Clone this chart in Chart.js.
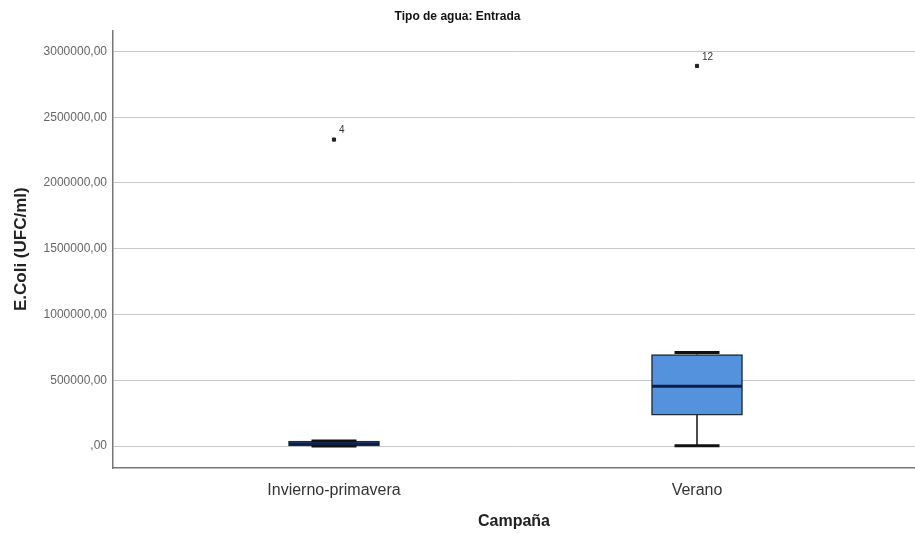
<!DOCTYPE html>
<html>
<head>
<meta charset="utf-8">
<script src="https://cdn.jsdelivr.net/npm/chart.js@4"></script>
<style>
  html, body { margin: 0; padding: 0; background: #fff; }
  #wrap { width: 915px; height: 533px; }
</style>
</head>
<body>
<div id="wrap"><canvas id="boxChart"></canvas></div>
<script>
// Datos del diagrama de cajas
const categories = ['Invierno-primavera', 'Verano'];
const whiskerLow = [0, 3000];
const q1 = [1000, 235000];
const median = [18000, 455000];
const q3 = [38000, 695000];
const whiskerHigh = [38000, 712000];

// Valores atípicos
const outlierCategory = [1, 2];
const outlierValues = [2330000, 2890000];
const outlierLabels = ['4', '12'];

const yTicks = [0, 500000, 1000000, 1500000, 2000000, 2500000, 3000000];

function formatValue(v) {
    // formato SPSS: ",00" con coma decimal
    return v === 0 ? ',00' : v + ',00';
}

// Bigotes y mediana dibujados con las escalas del gráfico
const boxParts = {
    id: 'boxParts',
    beforeDatasetsDraw(chart) {
        const { ctx, scales: { x, y } } = chart;
        ctx.save();
        ctx.strokeStyle = '#111';
        ctx.lineWidth = 1.5;
        categories.forEach((c, i) => {
            const px = x.getPixelForValue(i + 1);
            ctx.beginPath();
            ctx.moveTo(px, y.getPixelForValue(whiskerLow[i]));
            ctx.lineTo(px, y.getPixelForValue(q1[i]));
            ctx.moveTo(px, y.getPixelForValue(q3[i]));
            ctx.lineTo(px, y.getPixelForValue(whiskerHigh[i]));
            ctx.stroke();
        });
        ctx.restore();
    },
    afterDatasetsDraw(chart) {
        const { ctx, scales: { x, y } } = chart;
        ctx.save();
        categories.forEach((c, i) => {
            const px = x.getPixelForValue(i + 1);
            // extremos de los bigotes
            ctx.strokeStyle = '#111';
            ctx.lineWidth = 3;
            ctx.beginPath();
            [whiskerLow[i], whiskerHigh[i]].forEach(v => {
                const py = y.getPixelForValue(v);
                ctx.moveTo(px - 22.5, py);
                ctx.lineTo(px + 22.5, py);
            });
            ctx.stroke();
            // mediana
            ctx.strokeStyle = '#0d1f45';
            ctx.lineWidth = 3;
            ctx.beginPath();
            const my = y.getPixelForValue(median[i]);
            ctx.moveTo(px - 45, my);
            ctx.lineTo(px + 45, my);
            ctx.stroke();
        });
        // etiquetas de los atípicos
        ctx.fillStyle = '#333';
        ctx.font = '10px "Liberation Sans", Arial, sans-serif';
        ctx.textBaseline = 'middle';
        outlierValues.forEach((v, i) => {
            const px = x.getPixelForValue(outlierCategory[i]);
            const py = y.getPixelForValue(v);
            ctx.fillText(outlierLabels[i], px + 5, py - 9);
        });
        ctx.restore();
    }
};

const ctx = document.getElementById('boxChart').getContext('2d');
new Chart(ctx, {
    type: 'bar',
    data: {
        datasets: [{
            label: 'Caja',
            data: categories.map((c, i) => ({ x: i + 1, y: [q1[i], q3[i]] })),
            backgroundColor: '#5592dd',
            borderColor: '#1f2a38',
            borderWidth: 1.5,
            borderSkipped: false,
            barThickness: 91,
            order: 2
        }, {
            type: 'scatter',
            label: 'Atípicos',
            data: outlierValues.map((v, i) => ({ x: outlierCategory[i], y: v })),
            backgroundColor: '#222',
            borderColor: '#222',
            pointRadius: 2.2,
            pointStyle: 'rect',
            order: 1
        }]
    },
    options: {
        responsive: true,
        maintainAspectRatio: false,
        animation: false,
        layout: { padding: 0, autoPadding: false },
        plugins: {
            legend: { display: false },
            tooltip: { enabled: false },
            title: {
                display: true,
                text: 'Tipo de agua: Entrada',
                color: '#111',
                font: { family: '"Liberation Sans Narrow", "Liberation Sans", Arial, sans-serif', size: 12, weight: 'bold' },
                padding: { top: 9, bottom: 7 }
            }
        },
        scales: {
            x: {
                type: 'linear',
                offset: false,
                min: 1 - 221 / 363,
                max: 2 + 218 / 363,
                afterBuildTicks: (scale) => { scale.ticks = categories.map((c, i) => ({ value: i + 1 })); },
                afterFit: (scale) => {
                    scale.height = 65;
                    scale.paddingLeft = 0;
                    scale.paddingRight = 0;
                },
                grid: { display: false, drawTicks: false, offset: false },
                border: { display: true, color: '#777', width: 1.5 },
                ticks: {
                    padding: 13,
                    color: '#333',
                    font: { family: '"Liberation Sans", Arial, sans-serif', size: 16 },
                    callback: (v) => categories[Math.round(v) - 1]
                },
                title: {
                    display: true,
                    text: 'Campaña',
                    color: '#222',
                    font: { family: '"Liberation Sans", Arial, sans-serif', size: 16, weight: 'bold' },
                    padding: { top: 4, bottom: 2 }
                }
            },
            y: {
                min: -167000,
                max: 3160000,
                afterBuildTicks: (scale) => { scale.ticks = yTicks.map(v => ({ value: v })); },
                afterFit: (scale) => {
                    scale.width = 113;
                    scale.paddingTop = 0;
                    scale.paddingBottom = 0;
                },
                grid: { color: '#c9c9c9', lineWidth: 1, drawTicks: false },
                border: { display: true, color: '#777', width: 1.5 },
                ticks: {
                    padding: 6,
                    color: '#666',
                    font: { family: '"Liberation Sans", Arial, sans-serif', size: 12 },
                    callback: (v) => formatValue(v)
                },
                title: {
                    display: true,
                    text: 'E.Coli (UFC/ml)',
                    color: '#222',
                    font: { family: '"Liberation Sans", Arial, sans-serif', size: 17, weight: 'bold' },
                    padding: { top: 11, bottom: 0 }
                }
            }
        }
    },
    plugins: [boxParts]
});
</script>
</body>
</html>
